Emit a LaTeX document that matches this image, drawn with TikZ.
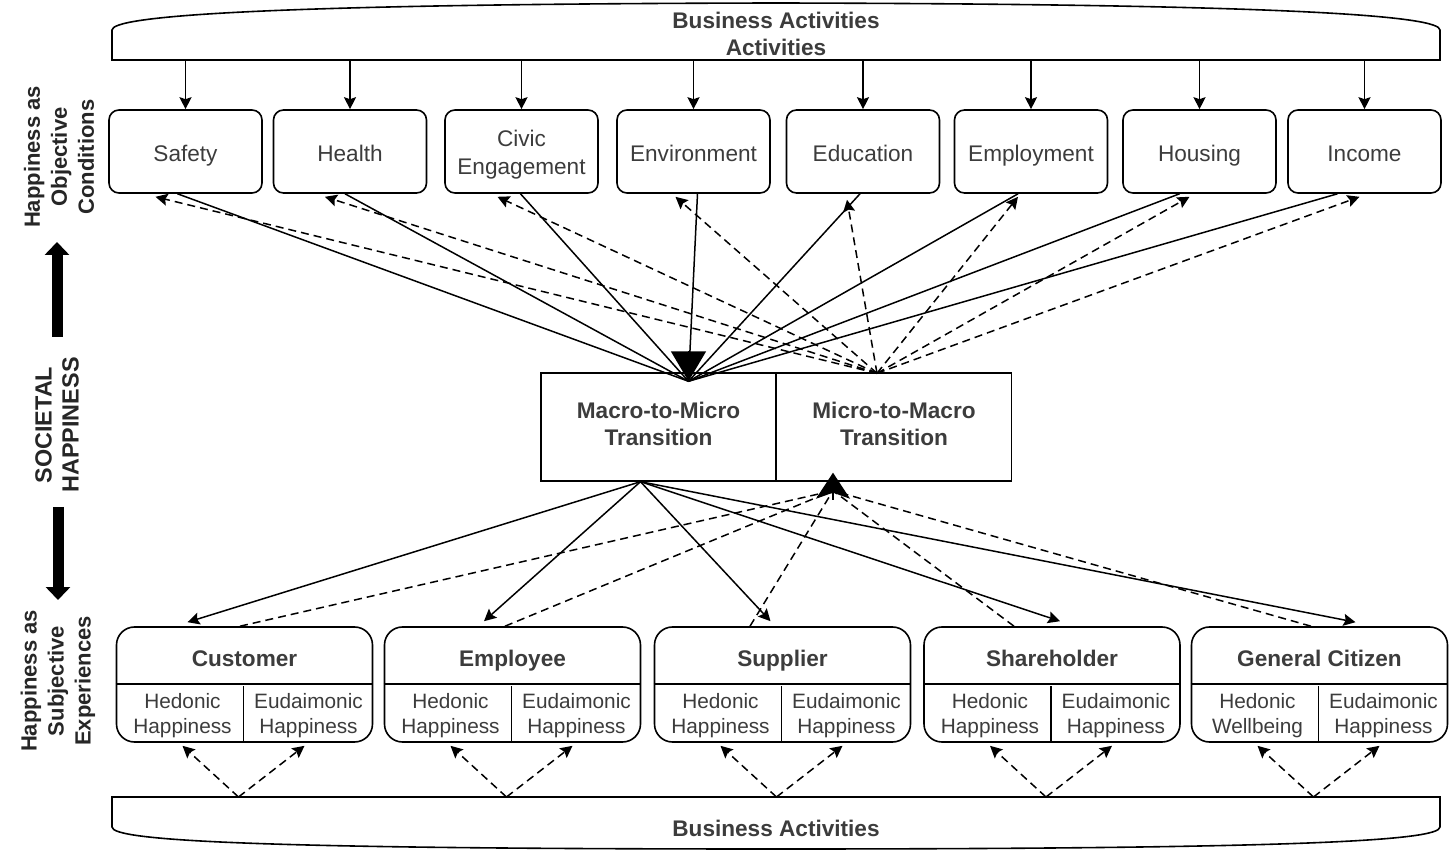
\documentclass[tikz,border=0pt]{standalone}
\usepackage{fontspec}
\setmainfont{Liberation Sans}
\usepackage{tikz}
\usetikzlibrary{arrows.meta,positioning,calc}
\definecolor{txt}{HTML}{3C3C3C}

\begin{document}
\begin{tikzpicture}[
          x=0.5pt, y=-0.5pt,
          every node/.style={font=\fontsize{11.3}{13.5}\selectfont, text=txt},
          condbox/.style={draw, rounded corners=5pt, minimum width=76.5pt, minimum height=41.5pt, align=center, line width=0.8pt},
          cond/.style={condbox, text height=9.6pt, text depth=0pt},
          trans/.style={draw, minimum width=117.5pt, minimum height=54pt, align=center, line width=0.7pt, font=\fontsize{11.3}{13.5}\selectfont\bfseries},
          stake/.style={draw, rounded corners=9pt, minimum width=128pt, minimum height=57.5pt, line width=0.8pt},
          head/.style={align=center, font=\fontsize{11.3}{13.5}\selectfont\bfseries},
          stakehead/.style={head, text height=9.6pt, text depth=0pt},
          sub/.style={align=center, inner sep=1pt, font=\fontsize{10.4}{12.5}\selectfont},
          side/.style={rotate=90, align=center, text=black!85, font=\fontsize{11}{13.5}\selectfont\bfseries},
          ln/.style={line width=0.75pt},
          arr/.style={ln, -{Stealth[length=6pt,width=6pt,inset=1pt]}},
          darr/.style={arr, dash pattern=on 4pt off 2.5pt},
          dln/.style={ln, dash pattern=on 4pt off 2.5pt},
          big/.style={line width=5.5pt, -{Triangle[length=6.5pt,width=12pt]}},
        ]
          \useasboundingbox (0,0) rectangle (1453,850);

          %% business activities bands
          \draw[line width=0.8pt] (112,60) -- (112,30) .. controls (112,16) and (260,4) .. (776,3)
                .. controls (1292,4) and (1440,16) .. (1440,30) -- (1440,60) -- cycle;
          \node[head] (bizTop) at (776,33.5) {Business Activities\\Activities};
          \draw[line width=0.8pt] (112,797) -- (112,827) .. controls (112,841) and (260,849) .. (776,849)
                .. controls (1292,849) and (1440,841) .. (1440,827) -- (1440,797) -- cycle;
          \node[head] (bizBot) at (776,828) {Business Activities};
          \coordinate (topline) at (0,60);
          \coordinate (botline) at (0,797);

          %% side labels
          \node[side] (objective)  at (59,157) {Happiness as\\Objective\\Conditions};
          \node[side, font=\fontsize{11.7}{13.5}\selectfont\bfseries] (societal) at (57,425) {SOCIETAL\\HAPPINESS};
          \node[side] (subjective) at (58,681) {Happiness as\\Subjective\\Experiences};
          \coordinate (upFrom)   at (57,337);
          \coordinate (upTo)     at (57,242);
          \coordinate (downFrom) at (58,507);
          \coordinate (downTo)   at (58,600);
          \draw[big] (upFrom) -- (upTo);
          \draw[big] (downFrom) -- (downTo);

          %% objective conditions
          \node[cond] (safety)  at (185.5,151.5) {Safety};
          \node[cond] (health)  at (350,151.5)   {Health};
          \node[condbox, font=\fontsize{11.3}{14}\selectfont] (civic) at (521.5,151.5) {\rule{0pt}{11.1pt}Civic\\Engagement};
          \node[cond] (env)     at (693.5,151.5) {Environment};
          \node[cond] (edu)     at (863,151.5)   {Education};
          \node[cond] (employ)  at (1031,151.5)  {Employment};
          \node[cond] (housing) at (1199.5,151.5) {Housing};
          \node[cond] (income)  at (1364.5,151.5) {Income};

          \draw[arr] (safety |- topline)  -- (safety.north);
          \draw[arr] (health |- topline)  -- (health.north);
          \draw[arr] (civic |- topline)   -- (civic.north);
          \draw[arr] (env |- topline)     -- (env.north);
          \draw[arr] (edu |- topline)     -- (edu.north);
          \draw[arr] (employ |- topline)  -- (employ.north);
          \draw[arr] (housing |- topline) -- (housing.north);
          \draw[arr] (income |- topline)  -- (income.north);

          %% transitions
          \node[trans] (macro) at (658.5,427) {Macro-to-Micro\\Transition\rule[-3pt]{0pt}{3pt}};
          \node[trans] (micro) at (894,427)   {Micro-to-Macro\\Transition\rule[-3pt]{0pt}{3pt}};
          \coordinate (inTop)    at ($(macro.north)+(30,9)$);
          \coordinate (outTop)   at ($(micro.north)+(-17,1)$);
          \coordinate (outBot)   at ($(macro.south)+(-18,0)$);
          \coordinate (inBot)    at ($(micro.south)+(-61,9)$);
          \coordinate (inBotTip) at ($(micro.south)+(-61,-9)$);

          %% conditions -> macro-to-micro (solid)
          \draw[ln] ($(safety.south)+(-8,0)$)   -- (inTop);
          \draw[ln] ($(health.south)+(-5,0)$)   -- (inTop);
          \draw[ln] ($(civic.south)+(-1,0)$)    -- (inTop);
          \draw[ln] ($(env.south)+(4,0)$)       -- (inTop);
          \draw[ln] ($(edu.south)+(-3,0)$)      -- (inTop);
          \draw[ln] ($(employ.south)+(-13,0)$)  -- (inTop);
          \draw[ln] ($(housing.south)+(-20,0)$) -- (inTop);
          \draw[ln] ($(income.south)+(-27,0)$)  -- (inTop);
          \draw[ln, -{Triangle[length=15pt,width=17.5pt]}] ($(inTop)+(0,-30)$) -- (inTop);

          %% micro-to-macro -> conditions (dashed)
          \draw[darr] (outTop) -- ($(safety.south)+(-30,3)$);
          \draw[darr] (outTop) -- ($(health.south)+(-25,3)$);
          \draw[darr] (outTop) -- ($(civic.south)+(-24,3)$);
          \draw[darr] (outTop) -- ($(env.south)+(-18,3)$);
          \draw[darr] (outTop) -- ($(edu.south)+(-16,6)$);
          \draw[darr] (outTop) -- ($(employ.south)+(-13,3)$);
          \draw[darr] (outTop) -- ($(housing.south)+(-10,3)$);
          \draw[darr] (outTop) -- ($(income.south)+(-5,3)$);

          %% subjective experiences
          \node[stake] (cust)  at (244.5,684.5) {};
          \node[stake] (empl)  at (512.5,684.5) {};
          \node[stake] (supp)  at (782.5,684.5) {};
          \node[stake] (share) at (1052,684.5)  {};
          \node[stake] (citi)  at (1319.5,684.5) {};

          \node[stakehead] (custName)  at (244.5,656.5)  {Customer};
          \node[stakehead] (emplName)  at (512.5,656.5)  {Employee};
          \node[stakehead] (suppName)  at (782.5,656.5)  {Supplier};
          \node[stakehead] (shareName) at (1052,656.5)   {Shareholder};
          \node[stakehead] (citiName)  at (1319.5,656.5) {General Citizen};

          \node[sub] (custHed)  at (182.5,716)  {Hedonic\\Happiness};
          \node[sub] (custEud)  at (308.5,716)  {Eudaimonic\\Happiness};
          \node[sub] (emplHed)  at (450.5,716)  {Hedonic\\Happiness};
          \node[sub] (emplEud)  at (576.5,716)  {Eudaimonic\\Happiness};
          \node[sub] (suppHed)  at (720.5,716)  {Hedonic\\Happiness};
          \node[sub] (suppEud)  at (846.5,716)  {Eudaimonic\\Happiness};
          \node[sub] (shareHed) at (990,716)    {Hedonic\\Happiness};
          \node[sub] (shareEud) at (1116,716)   {Eudaimonic\\Happiness};
          \node[sub] (citiHed)  at (1257.5,716) {Hedonic\\Wellbeing};
          \node[sub] (citiEud)  at (1383.5,716) {Eudaimonic\\Happiness};

          %% cell dividers
          \draw[line width=0.8pt] ($(cust.north west)+(0,58)$)  -- ($(cust.north east)+(0,58)$);
          \draw[line width=0.8pt] ($(empl.north west)+(0,58)$)  -- ($(empl.north east)+(0,58)$);
          \draw[line width=0.8pt] ($(supp.north west)+(0,58)$)  -- ($(supp.north east)+(0,58)$);
          \draw[line width=0.8pt] ($(share.north west)+(0,58)$) -- ($(share.north east)+(0,58)$);
          \draw[line width=0.8pt] ($(citi.north west)+(0,58)$)  -- ($(citi.north east)+(0,58)$);
          \draw[line width=0.8pt] ($(cust.south)+(-1,0)$)  -- ($(cust.south)+(-1,-57)$);
          \draw[line width=0.8pt] ($(empl.south)+(-1,0)$)  -- ($(empl.south)+(-1,-57)$);
          \draw[line width=0.8pt] ($(supp.south)+(-1,0)$)  -- ($(supp.south)+(-1,-57)$);
          \draw[line width=0.8pt] ($(share.south)+(-1,0)$) -- ($(share.south)+(-1,-57)$);
          \draw[line width=0.8pt] ($(citi.south)+(-1,0)$)  -- ($(citi.south)+(-1,-57)$);

          %% macro-to-micro -> stakeholders (solid)
          \draw[arr] (outBot) -- ($(cust.north)+(-57,-4)$);
          \draw[arr] (outBot) -- ($(empl.north)+(-28.5,-5)$);
          \draw[arr] (outBot) -- ($(supp.north)+(-12,-5)$);
          \draw[arr] (outBot) -- ($(share.north)+(8,-5)$);
          \draw[arr] (outBot) -- ($(citi.north)+(36,-4)$);

          %% stakeholders -> micro-to-macro (dashed)
          \draw[dln] ($(cust.north)+(-4.5,0)$)  -- (inBot);
          \draw[dln] ($(empl.north)+(-7.5,0)$)  -- (inBot);
          \draw[dln] ($(supp.north)+(-32.5,0)$) -- (inBot);
          \draw[dln] ($(share.north)+(-38,0)$)  -- (inBot);
          \draw[dln] ($(citi.north)+(-8.5,0)$)  -- (inBot);
          \draw[ln, -{Stealth[length=13pt,width=17pt,inset=3pt]}] ($(inBotTip)+(0,27)$) -- (inBotTip);

          %% business activities -> happiness types
          \draw[darr] ($(cust |- botline)+(-6,0)$)  -- ($(cust.south)+(-62,3)$);
          \draw[darr] ($(cust |- botline)+(-6,0)$)  -- ($(cust.south)+(60,3)$);
          \draw[darr] ($(empl |- botline)+(-6,0)$)  -- ($(empl.south)+(-62,3)$);
          \draw[darr] ($(empl |- botline)+(-6,0)$)  -- ($(empl.south)+(60,3)$);
          \draw[darr] ($(supp |- botline)+(-6,0)$)  -- ($(supp.south)+(-62,3)$);
          \draw[darr] ($(supp |- botline)+(-6,0)$)  -- ($(supp.south)+(60,3)$);
          \draw[darr] ($(share |- botline)+(-6,0)$) -- ($(share.south)+(-62,3)$);
          \draw[darr] ($(share |- botline)+(-6,0)$) -- ($(share.south)+(60,3)$);
          \draw[darr] ($(citi |- botline)+(-6,0)$)  -- ($(citi.south)+(-62,3)$);
          \draw[darr] ($(citi |- botline)+(-6,0)$)  -- ($(citi.south)+(60,3)$);
        \end{tikzpicture}
\end{document}
